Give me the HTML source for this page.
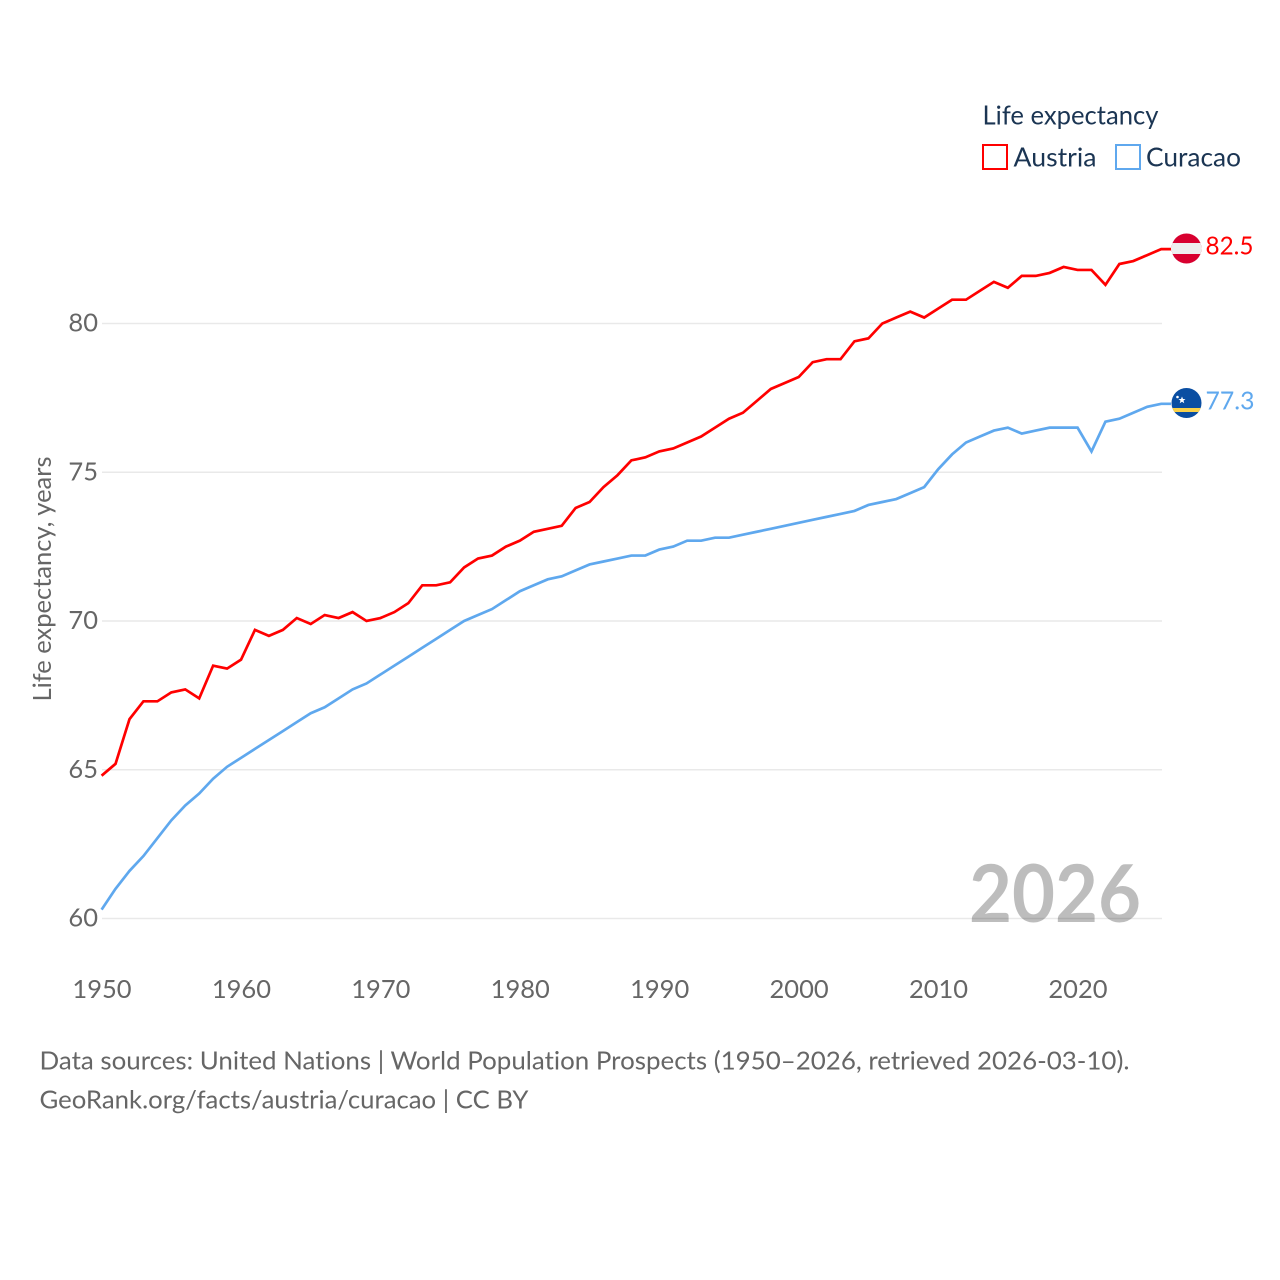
<!DOCTYPE html>
<html lang="en">
<head>
<meta charset="utf-8">
<title>Life expectancy: Austria and Curacao</title>
<style>
html,body{margin:0;padding:0;background:#fff;}
svg{display:block;font-family:"Lato","Carlito","Liberation Sans",sans-serif;font-variant-ligatures:none;}
</style>
</head>
<body>
<svg id="chart" width="1280" height="1280" viewBox="0 0 1280 1280" xmlns="http://www.w3.org/2000/svg">
  <defs>
    <clipPath id="flag-clip-a"><circle cx="1186.5" cy="248.5" r="15"></circle></clipPath>
    <clipPath id="flag-clip-c"><circle cx="1186.5" cy="403" r="15"></circle></clipPath>
  </defs>
  <rect width="1280" height="1280" fill="#fff"></rect>
  <g id="grid"></g>
  <g id="yticks"></g>
  <g id="xticks"></g>
  <text transform="translate(51 701.500) rotate(-90)" font-size="25" fill="#666" textLength="245" lengthAdjust="spacingAndGlyphs">Life expectancy, years</text>
  <text x="969" y="922" font-size="80" font-weight="700" fill="#000" fill-opacity="0.26" textLength="172" lengthAdjust="spacingAndGlyphs">2026</text>
  <g id="series"></g>

  <g clip-path="url(#flag-clip-a)">
    <rect x="1171" y="233" width="31" height="31" fill="#d8002f"></rect>
    <rect x="1171" y="243" width="31" height="11" fill="#eeeeee"></rect>
  </g>
  <g clip-path="url(#flag-clip-c)">
    <rect x="1171" y="388" width="31" height="31" fill="#0a4ea2"></rect>
    <rect x="1171" y="408" width="31" height="4" fill="#f9d14a"></rect>
    <polygon points="1182,396.5 1183,399 1185.500,399 1183.500,400.600 1184.300,403.200 1182,401.700 1179.700,403.200 1180.500,400.600 1178.500,399 1181,399" fill="#fff"></polygon>
    <circle cx="1177.500" cy="397" r="1.300" fill="#fff"></circle>
  </g>
  <text x="1205.500" y="254.500" font-size="25.500" fill="#ff0000" textLength="48" lengthAdjust="spacingAndGlyphs">82.5</text>
  <text x="1205.500" y="409.500" font-size="25.500" fill="#5fa8ee" textLength="49" lengthAdjust="spacingAndGlyphs">77.3</text>

  <g>
    <text x="982.500" y="124.500" font-size="26" fill="#1b3553" textLength="176" lengthAdjust="spacingAndGlyphs">Life expectancy</text>
    <g>
      <rect x="983" y="145" width="24" height="24" fill="#fff" stroke="#ff0000" stroke-width="2"></rect>
      <text x="1013.500" y="166.500" font-size="26" fill="#1b3553" textLength="83" lengthAdjust="spacingAndGlyphs">Austria</text>
    </g>
    <g>
      <rect x="1116" y="145" width="24" height="24" fill="#fff" stroke="#5fa8ee" stroke-width="2"></rect>
      <text x="1146" y="166.500" font-size="26" fill="#1b3553" textLength="95" lengthAdjust="spacingAndGlyphs">Curacao</text>
    </g>
  </g>

  <text x="39.500" y="1069.500" font-size="25.500" fill="#666" textLength="1090" lengthAdjust="spacingAndGlyphs">Data sources: United Nations | World Population Prospects (1950–2026, retrieved 2026-03-10).</text>
  <text x="39.500" y="1108.500" font-size="25.500" fill="#666" textLength="489" lengthAdjust="spacingAndGlyphs">GeoRank.org/facts/austria/curacao | CC BY</text>
</svg>
<script>
var years = [1950,1951,1952,1953,1954,1955,1956,1957,1958,1959,1960,1961,1962,1963,1964,1965,1966,1967,1968,1969,1970,1971,1972,1973,1974,1975,1976,1977,1978,1979,1980,1981,1982,1983,1984,1985,1986,1987,1988,1989,1990,1991,1992,1993,1994,1995,1996,1997,1998,1999,2000,2001,2002,2003,2004,2005,2006,2007,2008,2009,2010,2011,2012,2013,2014,2015,2016,2017,2018,2019,2020,2021,2022,2023,2024,2025,2026];
var austria = [64.8,65.2,66.7,67.3,67.3,67.6,67.7,67.4,68.5,68.4,68.7,69.7,69.5,69.7,70.1,69.9,70.2,70.1,70.3,70.0,70.1,70.3,70.6,71.2,71.2,71.3,71.8,72.1,72.2,72.5,72.7,73.0,73.1,73.2,73.8,74.0,74.5,74.9,75.4,75.5,75.7,75.8,76.0,76.2,76.5,76.8,77.0,77.4,77.8,78.0,78.2,78.7,78.8,78.8,79.4,79.5,80.0,80.2,80.4,80.2,80.5,80.8,80.8,81.1,81.4,81.2,81.6,81.6,81.7,81.9,81.8,81.8,81.3,82.0,82.1,82.3,82.5];
var curacao = [60.3,61.0,61.6,62.1,62.7,63.3,63.8,64.2,64.7,65.1,65.4,65.7,66.0,66.3,66.6,66.9,67.1,67.4,67.7,67.9,68.2,68.5,68.8,69.1,69.4,69.7,70.0,70.2,70.4,70.7,71.0,71.2,71.4,71.5,71.7,71.9,72.0,72.1,72.2,72.2,72.4,72.5,72.7,72.7,72.8,72.8,72.9,73.0,73.1,73.2,73.3,73.4,73.5,73.6,73.7,73.9,74.0,74.1,74.3,74.5,75.1,75.6,76.0,76.2,76.4,76.5,76.3,76.4,76.5,76.5,76.5,75.7,76.7,76.8,77.0,77.2,77.3];
var yTickValues = [60,65,70,75,80];
var xTickValues = [1950,1960,1970,1980,1990,2000,2010,2020];

var NS = 'http://www.w3.org/2000/svg';
function xScale(year) { return 101.6 + (year - 1950) * (1161.2 - 101.6) / 76; }
function yScale(value) { return 918.5 - (value - 60) * 29.75; }

var gridGroup = document.getElementById('grid');
var yGroup = document.getElementById('yticks');
var xGroup = document.getElementById('xticks');
var seriesGroup = document.getElementById('series');

yTickValues.forEach(function (v) {
  var line = document.createElementNS(NS, 'line');
  
  
  line.setAttribute('x1', 102);
  line.setAttribute('x2', 1162);
  line.setAttribute('y1', yScale(v));
  line.setAttribute('y2', yScale(v));
  line.setAttribute('stroke', '#e9e9e9');
  line.setAttribute('stroke-width', '1.4');
  gridGroup.appendChild(line);

  var label = document.createElementNS(NS, 'text');
  
  
  label.setAttribute('x', 98);
  label.setAttribute('y', yScale(v) + 8);
  label.setAttribute('text-anchor', 'end');
  label.setAttribute('font-size', '25.5');
  label.setAttribute('fill', '#666');
  label.textContent = v;
  yGroup.appendChild(label);
});

xTickValues.forEach(function (y) {
  var label = document.createElementNS(NS, 'text');
  
  
  label.setAttribute('x', xScale(y) + 0.4);
  label.setAttribute('y', 998);
  label.setAttribute('text-anchor', 'middle');
  label.setAttribute('font-size', '25.5');
  label.setAttribute('fill', '#666');
  label.textContent = y;
  xGroup.appendChild(label);
});

function linePath(values) {
  var d = values.map(function (v, i) {
    return (i ? 'L' : 'M') + xScale(years[i]).toFixed(2) + ' ' + yScale(v).toFixed(2);
  }).join(' ');
  return d + ' H1171';
}

var austriaLine = document.createElementNS(NS, 'path');


austriaLine.setAttribute('d', linePath(austria));
austriaLine.setAttribute('fill', 'none');
austriaLine.setAttribute('stroke', '#ff0000');
austriaLine.setAttribute('stroke-width', '2.7');
seriesGroup.appendChild(austriaLine);

var curacaoLine = document.createElementNS(NS, 'path');


curacaoLine.setAttribute('d', linePath(curacao));
curacaoLine.setAttribute('fill', 'none');
curacaoLine.setAttribute('stroke', '#5fa8ee');
curacaoLine.setAttribute('stroke-width', '2.7');
seriesGroup.appendChild(curacaoLine);
</script>
</body>
</html>
